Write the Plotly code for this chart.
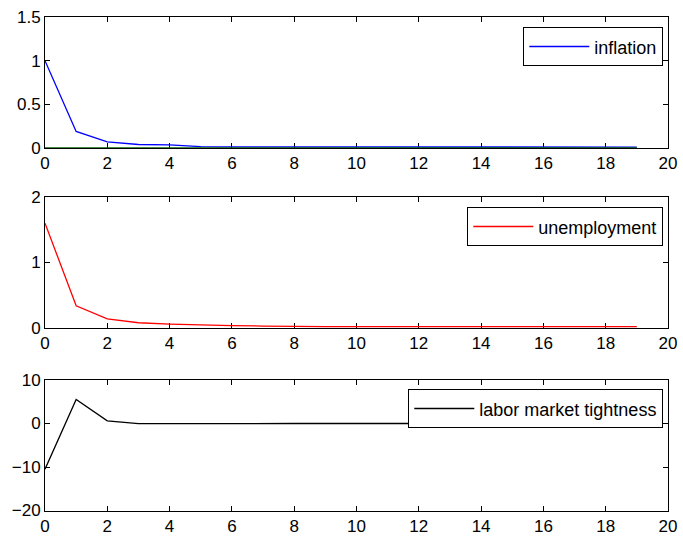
import plotly.graph_objects as go

# Impulse responses over 20 periods
periods = list(range(20))
inflation = [1.0, 0.19, 0.07, 0.04, 0.035, 0.016, 0.014, 0.013, 0.012, 0.011,
             0.011, 0.01, 0.01, 0.01, 0.01, 0.01, 0.01, 0.01, 0.01, 0.01]
baseline = [0.0] * 20
unemployment = [1.6, 0.34, 0.14, 0.08, 0.06, 0.045, 0.035, 0.03, 0.02, 0.02,
                0.02, 0.02, 0.02, 0.02, 0.02, 0.02, 0.02, 0.02, 0.02, 0.02]
tightness = [-10.5, 5.5, 0.6, -0.05, -0.05, 0, 0, 0, 0, 0,
             0, 0, 0, 0, 0, 0, 0, 0, 0, 0]

x_ticks = list(range(0, 21, 2))
y1_ticks = [0, 0.5, 1, 1.5]
y2_ticks = [0, 1, 2]
y3_ticks = [-20, -10, 0, 10]

FONT = "Liberation Sans, Arial, sans-serif"
LW = 1.3

fig = go.Figure()
fig.add_trace(go.Scatter(x=periods, y=inflation, mode="lines", name="inflation",
                         line=dict(color="#0000ff", width=LW),
                         xaxis="x", yaxis="y", legend="legend"))
fig.add_trace(go.Scatter(x=periods, y=baseline, mode="lines", showlegend=False,
                         line=dict(color="#006400", width=LW + 0.4),
                         xaxis="x", yaxis="y"))
fig.add_trace(go.Scatter(x=periods, y=unemployment, mode="lines", name="unemployment",
                         line=dict(color="#ff0000", width=LW),
                         xaxis="x2", yaxis="y2", legend="legend2"))
fig.add_trace(go.Scatter(x=periods, y=tightness, mode="lines", name="labor market tightness",
                         line=dict(color="#000000", width=LW),
                         xaxis="x3", yaxis="y3", legend="legend3"))

xdom = [45 / 683, 668 / 683]
ydoms = [[(540 - 148) / 540, (540 - 17) / 540],
         [(540 - 328) / 540, (540 - 197) / 540],
         [(540 - 510.5) / 540, (540 - 380) / 540]]
yranges = [[0, 1.5], [0, 2], [-20, 10]]
yticks = [y1_ticks, y2_ticks, y3_ticks]

common = dict(showline=True, linecolor="black", linewidth=1, mirror="ticks",
              ticks="inside", ticklen=5, tickcolor="black", tickwidth=1,
              showgrid=False, zeroline=False, layer="below traces",
              tickfont=dict(family=FONT, size=17, color="black"))

layout = dict(width=683, height=540,
              margin=dict(l=0, r=0, t=0, b=0, pad=0, autoexpand=False),
              plot_bgcolor="white", paper_bgcolor="white", showlegend=True)

for i in range(3):
    sx = "" if i == 0 else str(i + 1)
    layout["xaxis" + sx] = dict(domain=xdom, range=[0, 20], tickvals=x_ticks,
                                anchor="y" + sx, automargin=False, **common)
    layout["yaxis" + sx] = dict(domain=ydoms[i], range=yranges[i], tickvals=yticks[i],
                                anchor="x" + sx, automargin=False, **common)

legend_tops = [27, 207, 389]
for i, top in enumerate(legend_tops):
    key = "legend" if i == 0 else "legend" + str(i + 1)
    layout[key] = dict(x=663 / 683, y=(540 - top) / 540, xanchor="right", yanchor="top",
                       bgcolor="white", bordercolor="black", borderwidth=1.3,
                       itemwidth=60,
                       font=dict(family=FONT, size=18, color="black"))

fig.update_layout(**layout)
fig.write_html("out.html")
